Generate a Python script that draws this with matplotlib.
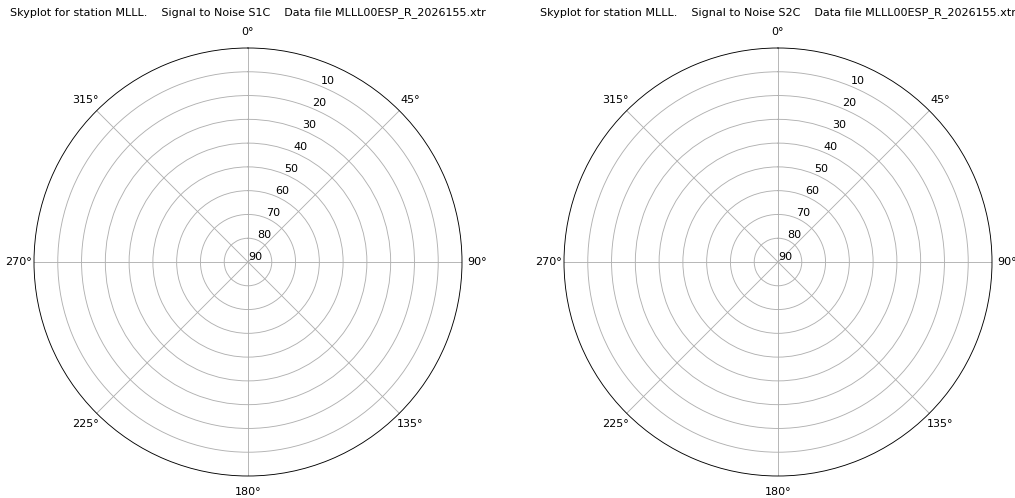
import matplotlib
matplotlib.use("Agg")
import matplotlib.pyplot as plt
import numpy as np

station = "MLLL"
signals = ["S1C", "S2C"]
data_file = "MLLL00ESP_R_2026155.xtr"
elev_ticks = [0, 10, 20, 30, 40, 50, 60, 70, 80]
elev_labels = ["90", "80", "70", "60", "50", "40", "30", "20", "10"]
az_ticks = [0, 45, 90, 135, 180, 225, 270, 315]

W, H = 1015, 498
DPI = 80
fig = plt.figure(figsize=(W / DPI, H / DPI), dpi=DPI)

centers = [(248, 262), (778, 262)]
R = 214
for (cx, cy), sig in zip(centers, signals):
    ax = fig.add_axes([(cx - R) / W, (H - cy - R) / H, 2 * R / W, 2 * R / H],
                      projection="polar")
    ax.set_theta_zero_location("N")
    ax.set_theta_direction(-1)
    ax.set_rlim(0, 90)
    ax.set_rticks(elev_ticks)
    ax.set_yticklabels(elev_labels)
    ax.set_xticks(np.deg2rad(az_ticks))
    ax.set_xticklabels([f"{a}°" for a in az_ticks])
    ax.set_rlabel_position(22.5)
    ax.grid(True, color="#b0b0b0", linewidth=0.8)
    ax.set_title(f"Skyplot for station {station}.    Signal to Noise {sig}    Data file {data_file}",
                 fontsize=10, pad=11.5)

fig.savefig("out.png", dpi=DPI)
